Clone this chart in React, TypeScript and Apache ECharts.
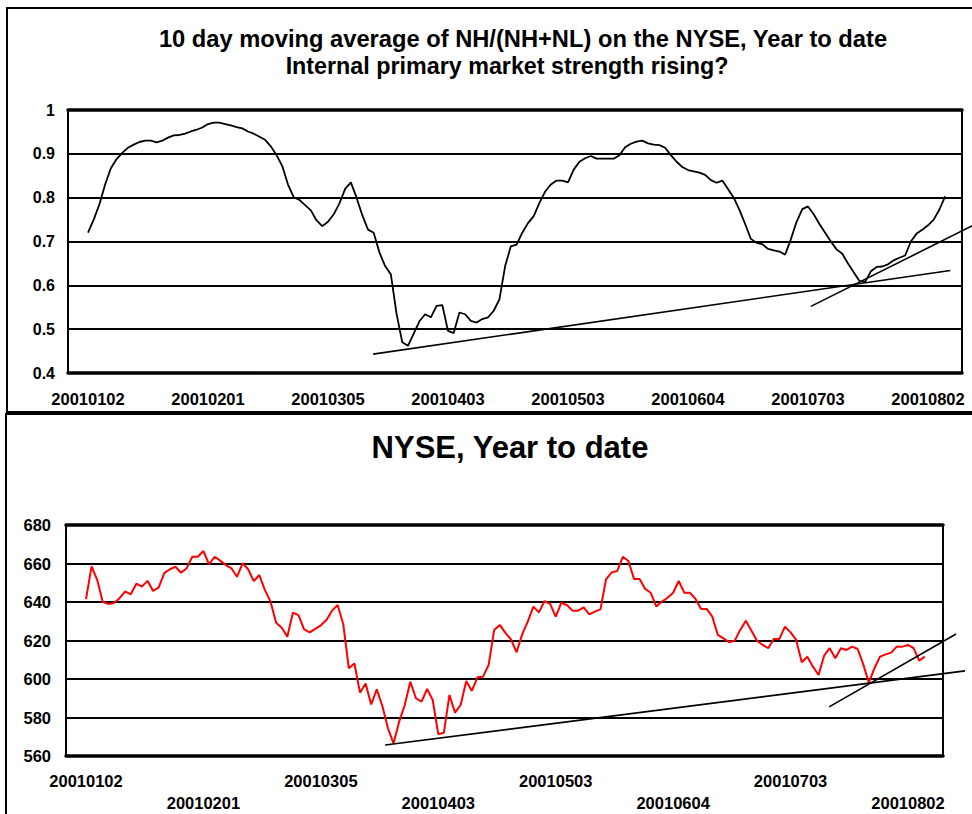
import React, { useEffect, useRef } from "react";
import * as echarts from "echarts";

// ---- categories: NYSE trading days from 2001-01-02 ----
const START_DATE = [2001, 0, 2];
const DAY_COUNT = 151;
const HOLIDAYS = ["20010101", "20010115", "20010219", "20010413", "20010528", "20010704"];

function buildTradingDays(): string[] {
  const out: string[] = [];
  const d = new Date(Date.UTC(START_DATE[0], START_DATE[1], START_DATE[2]));
  while (out.length < DAY_COUNT) {
    const wd = d.getUTCDay();
    const s =
      String(d.getUTCFullYear()) +
      String(d.getUTCMonth() + 1).padStart(2, "0") +
      String(d.getUTCDate()).padStart(2, "0");
    if (wd !== 0 && wd !== 6 && !HOLIDAYS.includes(s)) out.push(s);
    d.setUTCDate(d.getUTCDate() + 1);
  }
  return out;
}
const dates = buildTradingDays();

// ---- top chart: 10 day moving average of NH/(NH+NL) ----
const ratioValues = [
  0.72, 0.75, 0.785, 0.83, 0.867, 0.888, 0.902, 0.914, 0.921, 0.927,
  0.93, 0.93, 0.926, 0.93, 0.937, 0.942, 0.943, 0.946, 0.951, 0.955,
  0.96, 0.968, 0.971, 0.971, 0.968, 0.965, 0.961, 0.958, 0.951, 0.946,
  0.939, 0.932, 0.917, 0.897, 0.872, 0.83, 0.801, 0.795, 0.783, 0.771,
  0.748, 0.735, 0.745, 0.762, 0.787, 0.82, 0.835, 0.8, 0.76, 0.727,
  0.72, 0.675, 0.644, 0.625, 0.535, 0.47, 0.462, 0.49, 0.518, 0.534,
  0.527, 0.553, 0.555, 0.496, 0.491, 0.538, 0.534, 0.519, 0.515, 0.523,
  0.527, 0.542, 0.568, 0.644, 0.689, 0.693, 0.72, 0.742, 0.758, 0.788,
  0.814, 0.83, 0.839, 0.839, 0.835, 0.864, 0.882, 0.89, 0.895, 0.889,
  0.889, 0.889, 0.889, 0.897, 0.915, 0.923, 0.928, 0.93, 0.924, 0.921,
  0.92, 0.914, 0.897, 0.882, 0.87, 0.863, 0.86, 0.857, 0.852, 0.84,
  0.834, 0.839, 0.82, 0.8, 0.772, 0.74, 0.706, 0.697, 0.694, 0.683,
  0.68, 0.677, 0.67, 0.705, 0.745, 0.774, 0.78, 0.762, 0.74, 0.72,
  0.7, 0.682, 0.672, 0.65, 0.63, 0.61, 0.608, 0.632, 0.642, 0.643,
  0.648, 0.657, 0.663, 0.668, 0.7, 0.718, 0.727, 0.737, 0.75, 0.773,
  0.803,
];

// hand-drawn trend lines [index, value]
const ratioTrendLong = [[49.9, 0.443], [150.9, 0.634]];
const ratioTrendShort = [[126.5, 0.552], [156, 0.744]];

// ---- bottom chart: NYSE composite ----
const nyseValues = [
  641.5, 658.5, 651.5, 640, 639, 639.5, 642, 645.5, 644, 649.5,
  648, 651, 645.7, 647.6, 655, 657, 658.3, 655.2, 657.5, 663.5,
  663.5, 666.5, 659.6, 663.5, 661.5, 659.2, 657.5, 653.1, 660.1, 657,
  650.9, 654, 646.2, 640.2, 629.2, 626.6, 622, 634.4, 633.2, 625.8,
  624.2, 626, 627.9, 630.6, 635.5, 638.4, 628.6, 605.6, 608.1, 592.9,
  597.7, 586.8, 594.6, 586, 574.4, 566.6, 577.8, 586.5, 598.6, 590,
  588.2, 594.8, 589.1, 571.3, 572.1, 591.7, 582.5, 586.5, 599, 593.8,
  600.9, 601.2, 607.3, 625.5, 628.1, 624, 620.6, 613.9, 623.2, 629.8,
  637.6, 634.6, 640.5, 639, 632.4, 639.6, 638.4, 635.5, 635.5, 637.2,
  633.6, 635, 636.2, 651.8, 655.4, 656.1, 663.5, 661.3, 652, 652,
  646.8, 644.8, 637.6, 640.2, 642.2, 644.8, 650.9, 644.8, 644.8, 641.6,
  636.4, 636.4, 632.4, 622.9, 621.1, 619.1, 619.9, 625.5, 630.3, 625.1,
  619.9, 617.7, 616, 620.8, 620.8, 627.2, 624.2, 620.3, 608.7, 611.6,
  606.4, 602.1, 612.1, 616, 610.8, 616, 615.1, 616.8, 615.6, 607.6,
  598.1, 605.6, 611.6, 612.8, 613.7, 616.8, 616.8, 617.7, 616, 609.5,
  611.6,
];

const nyseTrendLong = [[53.5, 565.7], [157.2, 604.2]];
const nyseTrendShort = [[132.9, 585.5], [155.6, 623.4]];

const TITLE_TOP_1 = "10 day moving average of NH/(NH+NL) on the NYSE, Year to date";
const TITLE_TOP_2 = "Internal primary market strength rising?";
const TITLE_BOTTOM = "NYSE, Year to date";

const FONT = '"Liberation Sans", Arial, Helvetica, sans-serif';

// layout constants (pixels)
const TOP_STEP = 120 / 21;
const BOT_STEP = 822 / 147;
const TREND_SPAN = 160;

export default function App() {
  const ref = useRef<HTMLDivElement>(null);

  useEffect(() => {
    document.body.style.margin = "0";
    if (!ref.current) return;
    const chart = echarts.init(ref.current, null, { renderer: "svg" });

    const labelStyle = {
      color: "#000",
      fontSize: 16.5,
      fontWeight: "bold" as const,
      fontFamily: FONT,
    };

    const trendSeries = (data: number[][], xIdx: number, yIdx: number) => ({
      type: "line",
      xAxisIndex: xIdx,
      yAxisIndex: yIdx,
      data,
      symbol: "none",
      clip: false,
      silent: true,
      lineStyle: { color: "#000", width: 1.6 },
      z: 5,
    });

    const frameX = (gridIndex: number) => [
      {
        gridIndex,
        type: "value",
        min: 0,
        max: 1,
        position: "bottom",
        axisLine: { show: true, lineStyle: { color: "#000", width: 3.5 } },
        axisTick: { show: false },
        axisLabel: { show: false },
        splitLine: { show: false },
      },
      {
        gridIndex,
        type: "value",
        min: 0,
        max: 1,
        position: "top",
        axisLine: { show: true, lineStyle: { color: "#000", width: 3.5 } },
        axisTick: { show: false },
        axisLabel: { show: false },
        splitLine: { show: false },
      },
    ];

    const option: any = {
      animation: false,
      backgroundColor: "#fff",
      graphic: [
        {
          type: "rect",
          shape: { x: 7, y: 8, width: 1000, height: 404 },
          style: { fill: "none", stroke: "#000", lineWidth: 2 },
          silent: true,
        },
        {
          type: "rect",
          shape: { x: 6, y: 414, width: 1000, height: 420 },
          style: { fill: "none", stroke: "#000", lineWidth: 2 },
          silent: true,
        },
        {
          type: "text",
          x: 523,
          y: 39,
          style: {
            text: TITLE_TOP_1,
            fill: "#000",
            font: `bold 23.7px ${FONT}`,
            align: "center",
            verticalAlign: "middle",
          },
        },
        {
          type: "text",
          x: 507,
          y: 66,
          style: {
            text: TITLE_TOP_2,
            fill: "#000",
            font: `bold 23.3px ${FONT}`,
            align: "center",
            verticalAlign: "middle",
          },
        },
        {
          type: "text",
          x: 510,
          y: 447,
          style: {
            text: TITLE_BOTTOM,
            fill: "#000",
            font: `bold 31px ${FONT}`,
            align: "center",
            verticalAlign: "middle",
          },
        },
      ],
      grid: [
        { left: 68, top: 110, width: 894, height: 263, show: true, borderColor: "#000", borderWidth: 2, backgroundColor: "transparent", outerBoundsMode: "none" },
        { left: 88, top: 110, width: 150 * TOP_STEP, height: 263, outerBoundsMode: "none" },
        { left: 66, top: 525, width: 877, height: 231, show: true, borderColor: "#000", borderWidth: 2, backgroundColor: "transparent", outerBoundsMode: "none" },
        { left: 86, top: 525, width: 150 * BOT_STEP, height: 231, outerBoundsMode: "none" },
        { left: 88, top: 110, width: TREND_SPAN * TOP_STEP, height: 263, outerBoundsMode: "none" },
        { left: 86, top: 525, width: TREND_SPAN * BOT_STEP, height: 231, outerBoundsMode: "none" },
      ],
      xAxis: [
        ...frameX(0), // 0,1
        {
          gridIndex: 1,
          type: "category",
          data: dates,
          boundaryGap: false,
          axisLine: { show: false },
          axisTick: { show: false },
          splitLine: { show: false },
          axisLabel: { ...labelStyle, interval: 20, margin: 18, lineHeight: 16 },
        }, // 2
        ...frameX(2), // 3,4
        {
          gridIndex: 3,
          type: "category",
          data: dates,
          boundaryGap: false,
          axisLine: { show: false },
          axisTick: { show: false },
          splitLine: { show: false },
          axisLabel: {
            ...labelStyle,
            interval: 20,
            margin: 14,
            lineHeight: 22,
            formatter: (v: string, i: number) => (Math.round(i / 21) % 2 === 1 ? "\n" + v : v),
          },
        }, // 5
        { gridIndex: 4, type: "value", min: 0, max: TREND_SPAN, show: false }, // 6
        { gridIndex: 5, type: "value", min: 0, max: TREND_SPAN, show: false }, // 7
      ],
      yAxis: [
        {
          gridIndex: 0,
          type: "value",
          min: 0.4,
          max: 1,
          interval: 0.1,
          axisLine: { show: false },
          axisTick: { show: false },
          splitLine: { show: true, lineStyle: { color: "#000", width: 2 } },
          axisLabel: { ...labelStyle, fontSize: 16, margin: 13 },
        },
        { gridIndex: 1, type: "value", min: 0.4, max: 1, show: false },
        {
          gridIndex: 2,
          type: "value",
          min: 560,
          max: 680,
          interval: 20,
          axisLine: { show: false },
          axisTick: { show: false },
          splitLine: { show: true, lineStyle: { color: "#000", width: 2 } },
          axisLabel: { ...labelStyle, margin: 15 },
        },
        { gridIndex: 3, type: "value", min: 560, max: 680, show: false },
        { gridIndex: 4, type: "value", min: 0.4, max: 1, show: false },
        { gridIndex: 5, type: "value", min: 560, max: 680, show: false },
      ],
      series: [
        {
          type: "line",
          name: "NH/(NH+NL)",
          xAxisIndex: 2,
          yAxisIndex: 1,
          data: ratioValues,
          symbol: "none",
          lineStyle: { color: "#000", width: 1.8 },
          z: 4,
        },
        trendSeries(ratioTrendLong, 6, 4),
        trendSeries(ratioTrendShort, 6, 4),
        {
          type: "line",
          name: "NYSE",
          xAxisIndex: 5,
          yAxisIndex: 3,
          data: nyseValues,
          symbol: "none",
          lineStyle: { color: "#ff0000", width: 2 },
          z: 4,
        },
        trendSeries(nyseTrendLong, 7, 5),
        trendSeries(nyseTrendShort, 7, 5),
      ],
    };

    chart.setOption(option);
    return () => chart.dispose();
  }, []);

  return (
    <div
      ref={ref}
      style={{ position: "absolute", left: 0, top: 0, width: 972, height: 814 }}
    />
  );
}
